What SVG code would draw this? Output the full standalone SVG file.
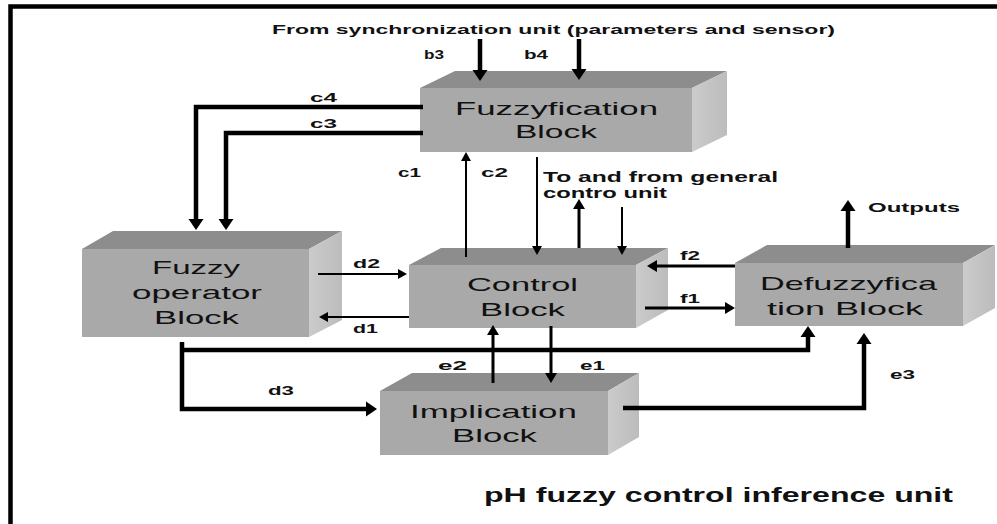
<svg xmlns="http://www.w3.org/2000/svg" width="997" height="524" viewBox="0 0 997 524">
<defs>
<style>
.front{fill:#a9a9a9}
.top{fill:#8d8d8d}
.side{fill:url(#sideGrad)}
.lbl{font-family:"Liberation Sans",Arial,sans-serif;fill:#111}
.blk{font-size:19px;text-anchor:start}
.sm{font-size:12.5px;font-weight:bold}
.ln{fill:none;stroke:#000;stroke-linejoin:miter}
.thick{stroke-width:4.5;marker-end:url(#aBig)}
.med{stroke-width:3;marker-end:url(#aMed)}
.thin{stroke-width:2;marker-end:url(#aSmall)}
</style>
<linearGradient id="sideGrad" x1="0" y1="0" x2="1" y2="0">
<stop offset="0" stop-color="#cbcbcb"/>
<stop offset="1" stop-color="#bcbcbc"/>
</linearGradient>
<marker id="aBig" markerUnits="userSpaceOnUse" markerWidth="12" markerHeight="16" refX="0" refY="8" orient="auto" viewBox="0 0 12 16">
<path d="M0,0.5 L11,8 L0,15.5 z" fill="#000"/>
</marker>
<marker id="aMed" markerUnits="userSpaceOnUse" markerWidth="11" markerHeight="13" refX="0" refY="6.5" orient="auto" viewBox="0 0 11 13">
<path d="M0,0.5 L10,6.5 L0,12.5 z" fill="#000"/>
</marker>
<marker id="aSmall" markerUnits="userSpaceOnUse" markerWidth="10" markerHeight="11" refX="0" refY="5.5" orient="auto" viewBox="0 0 10 11">
<path d="M0,0.5 L9,5.5 L0,10.5 z" fill="#000"/>
</marker>
</defs>
<rect x="0" y="0" width="997" height="524" fill="#fff"/>
<!-- frame -->
<path d="M10.5,524 V6.5 H997" fill="none" stroke="#000" stroke-width="4.5"/>

<g id="fuzzyfication">
<polygon class="top" points="420,88 455,71 727,71 692,88"/>
<polygon class="side" points="692,88 727,71 727,135 692,152"/>
<rect class="front" x="420" y="88" width="272" height="64"/>
<text class="lbl blk" x="455" y="115" textLength="203" lengthAdjust="spacingAndGlyphs">Fuzzyfication</text>
<text class="lbl blk" x="515" y="138" textLength="82" lengthAdjust="spacingAndGlyphs">Block</text>
</g>

<g id="fuzzy-operator">
<polygon class="top" points="82,249 113,231 342,231 309,249"/>
<polygon class="side" points="309,249 342,231 342,320 309,337"/>
<rect class="front" x="82" y="249" width="227" height="88"/>
<text class="lbl blk" x="152" y="274" textLength="88" lengthAdjust="spacingAndGlyphs">Fuzzy</text>
<text class="lbl blk" x="132" y="299" textLength="130" lengthAdjust="spacingAndGlyphs">operator</text>
<text class="lbl blk" x="154" y="324" textLength="85" lengthAdjust="spacingAndGlyphs">Block</text>
</g>

<g id="control">
<polygon class="top" points="409,265 441,248 668,248 636,265"/>
<polygon class="side" points="636,265 668,248 668,310 636,328"/>
<rect class="front" x="409" y="265" width="227" height="63"/>
<text class="lbl blk" x="467" y="291" textLength="111" lengthAdjust="spacingAndGlyphs">Control</text>
<text class="lbl blk" x="480" y="316" textLength="85" lengthAdjust="spacingAndGlyphs">Block</text>
</g>

<g id="defuzzyfication">
<polygon class="top" points="735,263 767,245 995,245 963,263"/>
<polygon class="side" points="963,263 995,245 995,308 963,326"/>
<rect class="front" x="735" y="263" width="228" height="63"/>
<text class="lbl blk" x="760" y="290" textLength="177" lengthAdjust="spacingAndGlyphs">Defuzzyfica</text>
<text class="lbl blk" x="767" y="315" textLength="156" lengthAdjust="spacingAndGlyphs">tion Block</text>
</g>

<g id="implication">
<polygon class="top" points="380,391 412,373 639,373 608,391"/>
<polygon class="side" points="608,391 639,373 639,437 608,455"/>
<rect class="front" x="380" y="391" width="228" height="64"/>
<text class="lbl blk" x="410" y="418" textLength="167" lengthAdjust="spacingAndGlyphs">Implication</text>
<text class="lbl blk" x="452" y="442" textLength="85" lengthAdjust="spacingAndGlyphs">Block</text>
</g>

<g id="connectors">
<path class="ln thick" d="M480,39 V70"/>
<path class="ln thick" d="M579,39 V69"/>
<path class="ln thick" d="M423,107 H196 V219"/>
<path class="ln thick" d="M423,133 H226 V219"/>
<path class="ln thin" d="M466,257 V161"/>
<path class="ln thin" d="M537,157 V246"/>
<path class="ln med" d="M579,248 V209"/>
<path class="ln thin" d="M622,207 V246"/>
<path class="ln thick" d="M848,248 V211"/>
<path class="ln med" d="M735,266 H657"/>
<path class="ln med" d="M645,308 H725"/>
<path class="ln thin" d="M318,274 H398"/>
<path class="ln thin" d="M409,317 H328"/>
<path class="ln thick" d="M182,342 V409 H366"/>
<path class="ln thick" d="M182,350 H808 V337"/>
<path class="ln med" d="M493,383 V335"/>
<path class="ln med" d="M551,326 V373"/>
<path class="ln thick" d="M623,408 H864 V344"/>
</g>

<g id="labels">
<text class="lbl" x="272" y="34" font-size="13" font-weight="bold" textLength="563" lengthAdjust="spacingAndGlyphs">From synchronization unit (parameters and sensor)</text>
<text class="lbl sm" x="424" y="59" textLength="20" lengthAdjust="spacingAndGlyphs">b3</text>
<text class="lbl sm" x="524" y="59" textLength="24" lengthAdjust="spacingAndGlyphs">b4</text>
<text class="lbl sm" x="310" y="102" textLength="27" lengthAdjust="spacingAndGlyphs">c4</text>
<text class="lbl sm" x="310" y="128" textLength="27" lengthAdjust="spacingAndGlyphs">c3</text>
<text class="lbl sm" x="398" y="177" textLength="23" lengthAdjust="spacingAndGlyphs">c1</text>
<text class="lbl sm" x="481" y="177" textLength="27" lengthAdjust="spacingAndGlyphs">c2</text>
<text class="lbl" x="543" y="182" font-size="14" font-weight="bold" textLength="235" lengthAdjust="spacingAndGlyphs">To and from general</text>
<text class="lbl" x="543" y="198" font-size="14" font-weight="bold" textLength="124" lengthAdjust="spacingAndGlyphs">contro unit</text>
<text class="lbl" x="868" y="212" font-size="13" font-weight="bold" textLength="92" lengthAdjust="spacingAndGlyphs">Outputs</text>
<text class="lbl sm" x="680" y="260" textLength="20" lengthAdjust="spacingAndGlyphs">f2</text>
<text class="lbl sm" x="680" y="303" textLength="20" lengthAdjust="spacingAndGlyphs">f1</text>
<text class="lbl sm" x="353" y="268" textLength="27" lengthAdjust="spacingAndGlyphs">d2</text>
<text class="lbl sm" x="353" y="333" textLength="25" lengthAdjust="spacingAndGlyphs">d1</text>
<text class="lbl sm" x="268" y="395" textLength="26" lengthAdjust="spacingAndGlyphs">d3</text>
<text class="lbl sm" x="438" y="370" textLength="29" lengthAdjust="spacingAndGlyphs">e2</text>
<text class="lbl sm" x="580" y="370" textLength="25" lengthAdjust="spacingAndGlyphs">e1</text>
<text class="lbl sm" x="890" y="379" textLength="25" lengthAdjust="spacingAndGlyphs">e3</text>
<text class="lbl" x="484" y="502" font-size="20" font-weight="bold" textLength="469" lengthAdjust="spacingAndGlyphs">pH fuzzy control inference unit</text>
</g>
</svg>
